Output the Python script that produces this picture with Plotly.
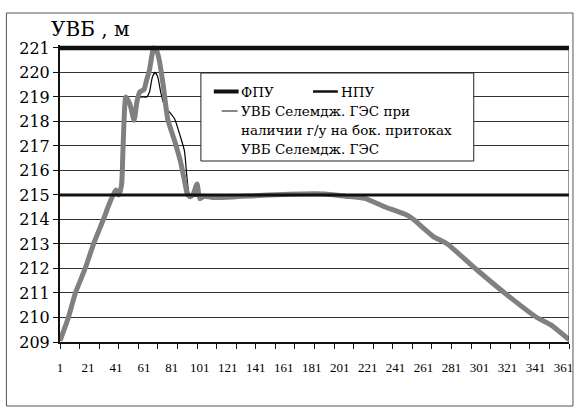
import plotly.graph_objects as go

# Reservoir level (УВБ) over the days of the year, m
days_main = [1, 7, 12, 19, 25, 32, 36, 39, 41, 43, 45, 46, 47, 48, 51, 54, 56, 58,
             61, 63, 65, 68, 70, 72, 75, 78, 83, 87, 90, 92, 94, 96, 99, 101, 104,
             110, 125, 150, 190, 205, 219, 233, 249, 256, 261, 268, 278, 298, 319,
             342, 352, 365]
level_main = [209.05, 210.0, 211.0, 212.0, 213.0, 214.0, 214.6, 215.0, 215.2, 215.0,
              215.4, 216.8, 218.3, 219.0, 218.7, 218.05, 218.8, 219.2, 219.3, 219.7,
              220.1, 221.0, 220.9, 220.5, 219.4, 218.1, 217.2, 216.4, 215.6, 215.05,
              214.93, 215.0, 215.45, 214.85, 214.95, 214.9, 214.92, 215.0, 215.04,
              214.95, 214.86, 214.52, 214.18, 213.9, 213.64, 213.3, 213.0, 212.0,
              211.0, 210.0, 209.7, 209.1]

# Level with regulation on the side tributaries
days_trib = [1, 7, 12, 19, 25, 32, 36, 39, 41, 43, 44, 46, 48, 51, 54, 56, 57, 59,
             63, 65, 67, 69, 71, 73, 76, 79, 83, 87, 90, 92, 94, 150, 190, 205, 219,
             233, 249, 256, 261, 268, 278, 298, 319, 342, 352, 365]
level_trib = [209.05, 210.0, 211.0, 212.0, 213.0, 214.0, 214.6, 215.0, 215.2, 215.0,
              215.3, 217.5, 219.0, 218.6, 218.0, 218.6, 218.9, 219.0, 219.0, 219.2,
              219.8, 220.0, 219.8, 219.2, 218.6, 218.4, 218.1, 217.4, 216.8, 215.6,
              215.0, 215.0, 215.04, 214.95, 214.86, 214.52, 214.18, 213.9, 213.64,
              213.3, 213.0, 212.0, 211.0, 210.0, 209.7, 209.1]

fpu_level = 221
npu_level = 215
day_span = [1, 365]

x_label_days = list(range(1, 362, 20))
x_tick_days = list(range(1, 366, 14))
y_ticks = list(range(209, 222))

legend_names = ["ФПУ", "НПУ", "УВБ Селемдж. ГЭС при",
                "наличии г/у на бок. притоках", "УВБ Селемдж. ГЭС"]

W, H = 579, 408
ML, MR, MT, MB = 60, 6, 45, 66
PW, PH = W - ML - MR, H - MT - MB


def px(x):
    return (x - ML) / PW


def py(y):
    return (H - MB - y) / PH


SERIF = "DejaVu Serif"
SERIF_NARROW = "Liberation Serif"

fig = go.Figure()
fig.add_trace(go.Scatter(x=days_trib, y=level_trib, mode="lines",
                         line=dict(color="#000000", width=1.2, shape="spline",
                                   smoothing=0.5),
                         name=legend_names[2], showlegend=False))
fig.add_trace(go.Scatter(x=days_main, y=level_main, mode="lines",
                         line=dict(color="#808080", width=5, shape="spline",
                                   smoothing=0.5),
                         name=legend_names[4], showlegend=False))
fig.add_trace(go.Scatter(x=day_span, y=[npu_level] * 2, mode="lines",
                         line=dict(color="#111111", width=3),
                         name=legend_names[1], showlegend=False))
fig.add_trace(go.Scatter(x=day_span, y=[fpu_level] * 2, mode="lines",
                         line=dict(color="#111111", width=4.5),
                         name=legend_names[0], showlegend=False,
                         xaxis="x2"))

shapes = [
    # outer chart frame
    dict(type="rect", xref="paper", yref="paper", x0=px(6), x1=px(577),
         y0=py(406), y1=py(13), line=dict(color="#555555", width=1),
         layer="below"),
    # right edge of the plot area
    dict(type="line", xref="x", yref="y", x0=365, x1=365, y0=209, y1=221,
         line=dict(color="#333333", width=1)),
    # legend box
    dict(type="rect", xref="paper", yref="paper", x0=px(202), x1=px(477),
         y0=py(161), y1=py(73), fillcolor="white",
         line=dict(color="#222222", width=1), layer="above"),
    dict(type="line", xref="paper", yref="paper", x0=px(215), x1=px(240),
         y0=py(91.5), y1=py(91.5), line=dict(color="#111111", width=4)),
    dict(type="line", xref="paper", yref="paper", x0=px(315), x1=px(340),
         y0=py(91.5), y1=py(91.5), line=dict(color="#111111", width=2.5)),
    dict(type="line", xref="paper", yref="paper", x0=px(223), x1=px(239),
         y0=py(111), y1=py(111), line=dict(color="#111111", width=1)),
]

legend_pos = [(240, 91.5), (341, 91.5), (240, 111), (240, 130), (240, 149)]
annotations = [
    dict(text="УВБ , м", xref="paper", yref="paper", x=px(49), y=py(29),
         xanchor="left", yanchor="middle", showarrow=False,
         font=dict(family=SERIF, size=20, color="black"))
]
for name, (lx, ly) in zip(legend_names, legend_pos):
    annotations.append(dict(text=name, xref="paper", yref="paper", x=px(lx),
                            y=py(ly), xanchor="left", yanchor="middle",
                            showarrow=False,
                            font=dict(family=SERIF, size=13.5, color="black")))

fig.update_layout(
    width=W, height=H,
    margin=dict(l=ML, r=MR, t=MT, b=MB),
    paper_bgcolor="white", plot_bgcolor="white",
    showlegend=False,
    xaxis=dict(range=day_span, tickvals=x_tick_days, showticklabels=False,
               ticks="outside", ticklen=5, tickcolor="#111111",
               showgrid=False, zeroline=False, showline=True, linewidth=2,
               linecolor="#111111"),
    xaxis2=dict(range=day_span, overlaying="x", anchor="y", side="bottom",
                tickvals=x_label_days, ticktext=[str(d) for d in x_label_days],
                ticks="", showgrid=False, zeroline=False, showline=False,
                ticklabelstandoff=16,
                tickfont=dict(family=SERIF_NARROW, size=13, color="black")),
    yaxis=dict(range=[209, 221.12], tickvals=y_ticks,
               ticks="outside", ticklen=5, tickcolor="#111111",
               showgrid=True, gridcolor="#333333", gridwidth=1,
               zeroline=False, showline=True, linewidth=2, linecolor="#111111",
               tickfont=dict(family=SERIF, size=16, color="black")),
    shapes=shapes,
    annotations=annotations,
)

fig.write_html("out.html")
